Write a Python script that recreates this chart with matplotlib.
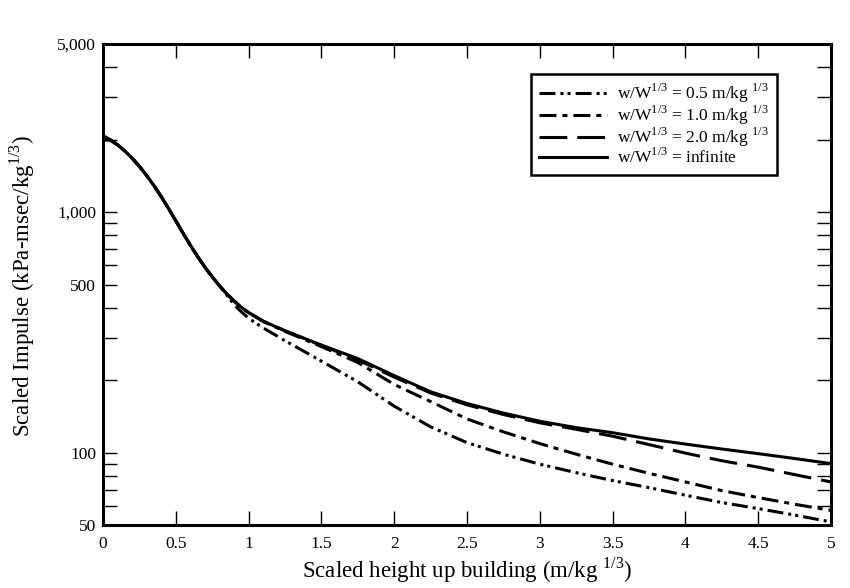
import matplotlib
matplotlib.use('Agg')
import matplotlib.pyplot as plt
from matplotlib.ticker import FixedLocator, LogLocator, NullFormatter

plt.rcParams['font.family'] = ['Liberation Serif', 'DejaVu Serif']
plt.rcParams['mathtext.fontset'] = 'custom'
plt.rcParams['mathtext.rm'] = 'Liberation Serif'
plt.rcParams['lines.scale_dashes'] = False

# scaled height up building (m/kg^1/3)
x = [0, 0.05, 0.1, 0.15, 0.2, 0.25, 0.3, 0.35, 0.4, 0.45, 0.5, 0.55, 0.6, 0.65,
     0.7, 0.75, 0.8, 0.85, 0.9, 0.95, 1.0, 1.1, 1.25, 1.5, 1.75,
     2.0, 2.25, 2.5, 2.75, 3.0, 3.25, 3.5, 3.75, 4.0, 4.25, 4.5, 4.75, 5.0]

# scaled impulse (kPa-msec/kg^1/3)
w_05 = [2000, 1990, 1905, 1795, 1675, 1549, 1419, 1288, 1159, 1035, 920, 817, 728, 653,
        590, 538, 494, 453, 412, 385, 362, 330, 292, 240, 197,
        156, 128, 110, 98.5, 89.5, 82.5, 76.5, 71.5, 66.5, 62, 58.5, 55, 51.5]
w_10 = [2030, 1995, 1905, 1795, 1675, 1549, 1419, 1288, 1159, 1035, 920, 817, 728, 653,
        590, 538, 494, 457, 427, 402, 382, 351, 319, 276, 237,
        192, 163, 138, 122, 109, 98.5, 89.5, 82, 75.5, 69.5, 65, 61, 57.5]
w_20 = [2080, 2000, 1905, 1795, 1675, 1549, 1419, 1288, 1159, 1035, 920, 817, 728, 653,
        590, 538, 494, 457, 427, 402, 382, 352, 321, 279, 243,
        206, 177, 158, 144, 133, 125, 117, 108, 99.5, 92.5, 87, 81, 75.5]
w_inf = [2050, 1995, 1905, 1795, 1675, 1549, 1419, 1288, 1159, 1035, 920, 817, 728, 653,
         590, 538, 494, 457, 427, 402, 382, 352, 321, 280, 246,
         209, 179, 160, 146, 135, 127, 121, 114, 108.5, 103.5, 99, 94.5, 90]

labels = [r'w/W$^{1/3}$ = 0.5 m/kg $^{1/3}$',
          r'w/W$^{1/3}$ = 1.0 m/kg $^{1/3}$',
          r'w/W$^{1/3}$ = 2.0 m/kg $^{1/3}$',
          r'w/W$^{1/3}$ = infinite']

x_ticks = [0, 0.5, 1, 1.5, 2, 2.5, 3, 3.5, 4, 4.5, 5]
x_tick_labels = ['0', '0.5', '1', '1.5', '2', '2.5', '3', '3.5', '4', '4.5', '5']
y_ticks = [50, 100, 500, 1000, 5000]
y_tick_labels = ['50', '100', '500', '1,000', '5,000']

fig = plt.figure(figsize=(8.5, 5.88), dpi=100)
ax = fig.add_axes([103 / 850, 1 - 525 / 588, 728 / 850, 481 / 588])

ax.plot(x, w_05, color='black', lw=2.2, dashes=(11.5, 3.6, 2.2, 2.9, 2.2, 3.6), label=labels[0])
ax.plot(x, w_10, color='black', lw=2.2, dashes=(12.2, 4.3, 3.6, 4.3), label=labels[1])
ax.plot(x, w_20, color='black', lw=2.2, dashes=(20, 7.2), label=labels[2])
ax.plot(x, w_inf, color='black', lw=2.2, label=labels[3])

ax.set_yscale('log')
ax.set_xlim(0, 5)
ax.set_ylim(50, 5000)
ax.xaxis.set_major_locator(FixedLocator(x_ticks))
ax.set_xticklabels(x_tick_labels)
ax.yaxis.set_major_locator(FixedLocator(y_ticks))
ax.set_yticklabels(y_tick_labels)
ax.yaxis.set_minor_locator(LogLocator(base=10, subs=range(2, 10)))
ax.yaxis.set_minor_formatter(NullFormatter())

ax.tick_params(which='both', direction='in', top=True, right=True,
               length=10, width=1, labelsize=12.5)
ax.tick_params(axis='x', pad=8)
ax.tick_params(axis='y', pad=5)
for s in ax.spines.values():
    s.set_linewidth(2.2)

fig.text(467 / 850, 1 - 570 / 588, r'Scaled height up building (m/kg $^{1/3}$)',
         fontsize=16.5, ha='center', va='center')
fig.text(22 / 850, 1 - 286 / 588, r'Scaled Impulse (kPa-msec/kg$^{1/3}$)',
         fontsize=16.5, ha='center', va='center', rotation=90)

leg = ax.legend(loc='upper right', bbox_to_anchor=((777 - 103) / 728, 1 - 30 / 481),
                borderaxespad=0, fontsize=12.5, handlelength=3.9, handletextpad=0.6,
                labelspacing=-0.08, borderpad=0.45, fancybox=False, framealpha=1,
                edgecolor='black')
leg.get_frame().set_linewidth(1.8)

plt.savefig('out.png', dpi=100)
